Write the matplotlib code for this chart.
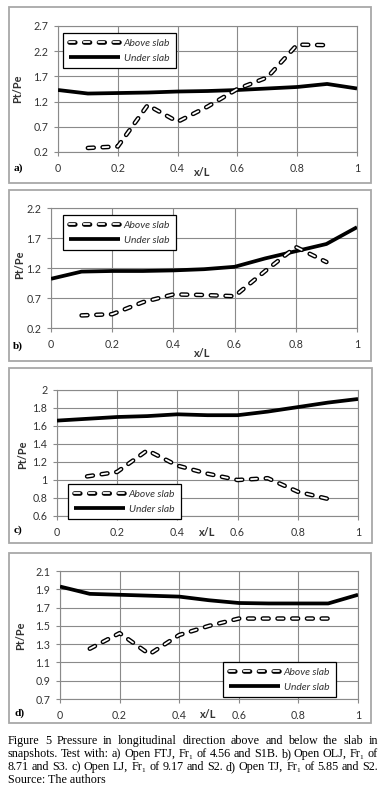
"""
Pressure along the slab (Pt/Pe vs x/L), four snapshot panels a-d.
"""

import numpy as np
import matplotlib
matplotlib.use("Agg")
import matplotlib.pyplot as plt
import matplotlib.patheffects as pe
from matplotlib.patches import Rectangle

W, H = 386, 791

# x/L positions
x_under = [0.0, 0.1, 0.2, 0.3, 0.4, 0.5, 0.6, 0.7, 0.8, 0.9, 1.0]
x_above = [0.1, 0.2, 0.3, 0.4, 0.5, 0.6, 0.7, 0.8, 0.9]

# a) Open FTJ
under_a = [1.43, 1.36, 1.37, 1.38, 1.40, 1.41, 1.43, 1.46, 1.49, 1.55, 1.46]
above_a = [0.28, 0.31, 1.13, 0.80, 1.10, 1.45, 1.68, 2.33, 2.32]
# b) Open OLJ
under_b = [1.02, 1.14, 1.15, 1.15, 1.16, 1.18, 1.22, 1.36, 1.48, 1.60, 1.88]
above_b = [0.41, 0.43, 0.63, 0.76, 0.75, 0.73, 1.15, 1.55, 1.30]
# c) Open LJ
under_c = [1.66, 1.68, 1.70, 1.71, 1.73, 1.72, 1.72, 1.76, 1.81, 1.86, 1.90]
above_c = [1.04, 1.09, 1.33, 1.16, 1.07, 1.00, 1.02, 0.87, 0.79]
# d) Open TJ
under_d = [1.93, 1.85, 1.84, 1.83, 1.82, 1.78, 1.75, 1.745, 1.745, 1.745, 1.84]
above_d = [1.25, 1.42, 1.19, 1.40, 1.50, 1.58, 1.58, 1.58, 1.58]

x_ticks = [0, 0.2, 0.4, 0.6, 0.8, 1]
x_tick_labels = ["0", "0.2", "0.4", "0.6", "0.8", "1"]
y_ticks_a = [0.2, 0.7, 1.2, 1.7, 2.2, 2.7]
y_ticks_b = [0.2, 0.7, 1.2, 1.7, 2.2]
y_ticks_c = [0.6, 0.8, 1.0, 1.2, 1.4, 1.6, 1.8, 2.0]
y_ticks_d = [0.7, 0.9, 1.1, 1.3, 1.5, 1.7, 1.9, 2.1]
y_labels_c = ["0.6", "0.8", "1", "1.2", "1.4", "1.6", "1.8", "2"]

caption_lines = [
    "Figure 5 Pressure in longitudinal direction above and below the slab in",
    "snapshots. Test with: a) Open FTJ, Fr\u2081 of 4.56 and S1B. b) Open OLJ, Fr\u2081 of",
    "8.71 and S3. c) Open LJ, Fr\u2081 of 9.17 and S2. d) Open TJ, Fr\u2081 of 5.85 and S2.",
    "Source: The authors",
]

plt.rcParams['font.family'] = ['Lato', 'DejaVu Sans']
plt.rcParams['lines.scale_dashes'] = False

GRID = '#8a8a8a'
TXT = '#333333'

# layout in pixels: axes box, outer frame box, legend anchor, label spots
panels = [
    dict(tag="a)", under=under_a, above=above_a, yt=y_ticks_a, yl=None,
         ax_px=(58, 26, 357, 152), box_px=(9, 7, 371, 183), leg_px=(63, 33),
         ylab_px=(18, 89), xlab_px=(202, 173), tag_px=(18, 168)),
    dict(tag="b)", under=under_b, above=above_b, yt=y_ticks_b, yl=None,
         ax_px=(51, 208, 357, 328), box_px=(9, 190, 371, 361), leg_px=(63, 215),
         ylab_px=(20, 265), xlab_px=(202, 353), tag_px=(18, 346)),
    dict(tag="c)", under=under_c, above=above_c, yt=y_ticks_c, yl=y_labels_c,
         ax_px=(57, 390, 358, 516), box_px=(9, 368, 372, 543), leg_px=(68, 484),
         ylab_px=(23, 455), xlab_px=(207, 532), tag_px=(18, 530)),
    dict(tag="d)", under=under_d, above=above_d, yt=y_ticks_d, yl=None,
         ax_px=(60, 571, 358, 699), box_px=(9, 553, 371, 723), leg_px=(223, 662),
         ylab_px=(21, 636), xlab_px=(208, 715), tag_px=(20, 713)),
]

fig = plt.figure(figsize=(W / 100, H / 100), dpi=100)


def fx(px):
    return px / W


def fy(py):
    return 1 - py / H


for p in panels:
    bx0, by0, bx1, by1 = p['box_px']
    fig.add_artist(Rectangle((fx(bx0), fy(by1)), fx(bx1 - bx0), (by1 - by0) / H,
                             transform=fig.transFigure, fill=False,
                             edgecolor='#a8a8a8', lw=1.3))

    x0, y0, x1, y1 = p['ax_px']
    ax = fig.add_axes([fx(x0), fy(y1), fx(x1 - x0), (y1 - y0) / H])

    ax.plot(x_under, p['under'], color='black', lw=2.7, solid_capstyle='butt',
            label='Under slab', zorder=3)
    ax.plot(x_above, p['above'], color='white', lw=1.3, linestyle=(0, (4.2, 6.4)),
            dash_capstyle='round', label='Above slab', zorder=4,
            path_effects=[pe.Stroke(linewidth=3.3, foreground='black'), pe.Normal()])

    ax.set_xlim(0, 1)
    ax.set_ylim(p['yt'][0], p['yt'][-1])
    ax.set_xticks(x_ticks)
    ax.set_xticklabels(x_tick_labels)
    ax.set_yticks(p['yt'])
    if p['yl'] is not None:
        ax.set_yticklabels(p['yl'])
    else:
        ax.set_yticklabels([f"{v:.1f}" for v in p['yt']])
    ax.grid(True, color=GRID, lw=0.8)
    for s in ax.spines.values():
        s.set_color(GRID)
        s.set_linewidth(0.8)
    ax.tick_params(axis='both', colors=GRID, labelcolor=TXT, labelsize=7.7,
                   length=3, width=0.8)
    ax.tick_params(axis='x', pad=5)
    ax.tick_params(axis='y', pad=4)

    handles, labels = ax.get_legend_handles_labels()
    leg = ax.legend(handles[::-1], labels[::-1], loc='upper left',
                    bbox_to_anchor=(fx(p['leg_px'][0]), fy(p['leg_px'][1])),
                    bbox_transform=fig.transFigure, borderaxespad=0,
                    frameon=True, fancybox=False, framealpha=1,
                    edgecolor='black', handlelength=5.0, handletextpad=0.35,
                    borderpad=0.55, labelspacing=0.55,
                    prop=dict(size=7.4, style='italic'))
    leg.get_frame().set_linewidth(0.9)
    leg.set_zorder(10)
    for t in leg.get_texts():
        t.set_color(TXT)

    fig.text(fx(p['ylab_px'][0]), fy(p['ylab_px'][1]), "Pt/Pe", rotation=90,
             ha='center', va='center', fontsize=7.8, fontweight='bold', color=TXT)
    fig.text(fx(p['xlab_px'][0]), fy(p['xlab_px'][1]), "x/L",
             ha='center', va='center', fontsize=7.8, fontweight='bold', color=TXT)
    fig.text(fx(p['tag_px'][0]), fy(p['tag_px'][1]), p['tag'],
             ha='center', va='center', fontsize=8.2, fontweight='bold',
             family=['Liberation Serif', 'DejaVu Serif'])

# caption, justified by hand (last line left aligned)
cap_font = dict(fontsize=8.7, family=['Liberation Serif', 'DejaVu Serif'], color='black')
left, right = 8, 378
baselines = [744, 757, 770, 783]
renderer = fig.canvas.get_renderer()
for i, line in enumerate(caption_lines):
    words = line.split(" ")
    if i == len(caption_lines) - 1:
        fig.text(fx(left), fy(baselines[i]), line, ha='left', va='baseline', **cap_font)
        continue
    objs = [fig.text(0, fy(baselines[i]), w, ha='left', va='baseline', **cap_font)
            for w in words]
    widths = [o.get_window_extent(renderer).width for o in objs]
    gap = (right - left - sum(widths)) / (len(words) - 1)
    xpos = left
    for o, w in zip(objs, widths):
        o.set_x(fx(xpos))
        xpos += w + gap

fig.savefig("out.png", dpi=100)
